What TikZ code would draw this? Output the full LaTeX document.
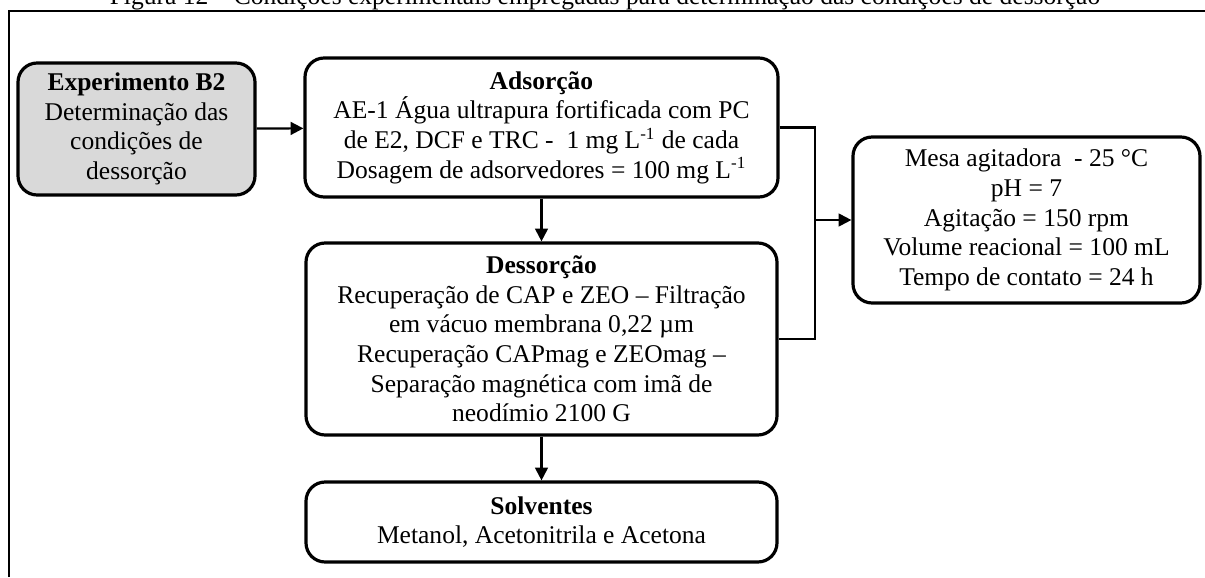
\documentclass[tikz,border=0pt]{standalone}
\usepackage{fontspec}
\setmainfont{Liberation Serif}
\usetikzlibrary{arrows.meta}
\definecolor{cinza}{RGB}{217,217,217}
\tikzset{
  caixa/.style={draw,line width=1.5pt,rounded corners=9pt,align=center,
    inner sep=0pt,font=\fontsize{12}{13.9}\selectfont},
  seta/.style={line width=1pt,-{Triangle[length=6pt,width=6pt]}},
  liga/.style={line width=1pt}
}

\begin{document}
\begin{tikzpicture}[x=0.47pt,y=-0.47pt]
    \useasboundingbox (0,0) rectangle (1205,577);
    \coordinate (FrameBL) at (9,577);
    \coordinate (FrameTL) at (9,11);
    \coordinate (FrameTR) at (1205,11);

    % caption cut at the top of the frame
    \node[anchor=base,inner sep=0pt,font=\fontsize{12}{14}\selectfont] (titulo) at (605,4)
      {Figura 12 -- Condições experimentais empregadas para determinação das condições de dessorção};
    \draw[line width=1.3pt] (FrameBL) -- (FrameTL) -- (FrameTR);

    \node[caixa,fill=cinza,minimum width=237*0.47pt,minimum height=132*0.47pt] (expB) at (136.5,129)
      {\textbf{Experimento B2}\\Determinação das\\condições de\\dessorção};
    \node[caixa,minimum width=473*0.47pt,minimum height=139*0.47pt] (ads) at (541.5,127.5)
      {\textbf{Adsorção}\\AE-1 Água ultrapura fortificada com PC\\de E2, DCF e TRC -\ \ 1 mg L\textsuperscript{-1} de cada\\Dosagem de adsorvedores = 100 mg L\textsuperscript{-1}};
    \node[caixa,minimum width=471*0.47pt,minimum height=192*0.47pt] (des) at (541.5,339)
      {\textbf{Dessorção}\\Recuperação de CAP e ZEO -- Filtração\\em vácuo membrana 0,22 µm\\Recuperação CAPmag e ZEOmag --\\Separação magnética com imã de\\neodímio 2100 G};
    \node[caixa,minimum width=471*0.47pt,minimum height=80*0.47pt] (sol) at (541.5,522)
      {\textbf{Solventes}\\Metanol, Acetonitrila e Acetona};
    \node[caixa,minimum width=347*0.47pt,minimum height=166*0.47pt] (mesa) at (1026.5,220)
      {Mesa agitadora\ \ - 25 °C\\pH = 7\\Agitação = 150 rpm\\Volume reacional = 100 mL\\Tempo de contato = 24 h};

    \coordinate (junta) at (815,220);
    \draw[seta] (expB) -- (ads);
    \draw[seta] (ads) -- (des);
    \draw[seta] (des) -- (sol);
    \draw[liga] (ads.east) -| (junta) |- (des.east);
    \draw[seta] (junta) -- (mesa.west);
\end{tikzpicture}
\end{document}
